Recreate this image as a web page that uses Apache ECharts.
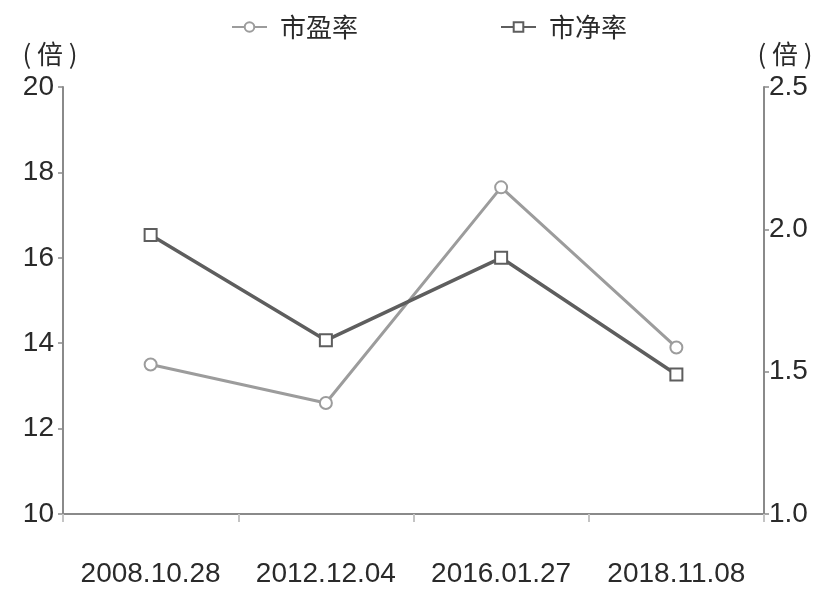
<!DOCTYPE html>
<html>
<head>
<meta charset="utf-8">
<script src="https://cdn.jsdelivr.net/npm/echarts@6/dist/echarts.min.js"></script>
<style>
  html, body { margin: 0; padding: 0; background: #ffffff; }
  #chart { width: 822px; height: 590px; }
</style>
</head>
<body>
<div id="chart"></div>
<script>
// Dates of the observations
const dates = ['2008.10.28', '2012.12.04', '2016.01.27', '2018.11.08'];
// Price-to-earnings ratio (left axis, times)
const peValues = [13.5, 12.6, 17.65, 13.9];
// Price-to-book ratio (right axis, times)
const pbValues = [1.98, 1.61, 1.90, 1.49];
// Series names
const peName = '市盈率';
const pbName = '市净率';
// Axis unit label
const unitLabel = '( 倍 )';

const FONT = '"Liberation Sans", Arial, "Noto Sans CJK SC", sans-serif';
const CJK = '"Noto Sans CJK SC", sans-serif';
const AXIS_COLOR = '#8a8a8a';
const TEXT_COLOR = '#2a2a2a';
const PE_COLOR = '#9c9c9c';
const PB_COLOR = '#5e5e5e';

const chart = echarts.init(document.getElementById('chart'), null, { renderer: 'canvas' });

chart.setOption({
  animation: false,
  backgroundColor: '#ffffff',
  legend: {
    left: 226,
    top: 9,
    itemWidth: 35,
    itemHeight: 12,
    itemGap: 142,
    textStyle: { fontFamily: CJK, fontSize: 26, color: TEXT_COLOR, padding: [0, 0, 0, 8] },
    data: [peName, pbName]
  },
  grid: { left: 63, right: 58, top: 87, bottom: 76, containLabel: false },
  xAxis: {
    type: 'category',
    data: dates,
    boundaryGap: true,
    axisLine: { lineStyle: { color: AXIS_COLOR, width: 2 } },
    axisTick: { show: true, interval: 0, length: 8, lineStyle: { color: '#c4c4c4', width: 2 } },
    axisLabel: { interval: 0, fontFamily: FONT, fontSize: 28, color: TEXT_COLOR, margin: 46 },
    splitLine: { show: false }
  },
  yAxis: [
    {
      type: 'value',
      min: 10,
      max: 20,
      interval: 2,
      position: 'left',
      name: unitLabel,
      nameLocation: 'end',
      nameGap: 20,
      nameTextStyle: { fontFamily: CJK, fontSize: 26, color: TEXT_COLOR, align: 'center', padding: [0, 26, 0, 0] },
      axisLine: { show: true, lineStyle: { color: AXIS_COLOR, width: 2 } },
      axisTick: { show: true, length: 5, lineStyle: { color: AXIS_COLOR, width: 1.5 } },
      axisLabel: { fontFamily: FONT, fontSize: 28, color: TEXT_COLOR, margin: 9 },
      splitLine: { show: false }
    },
    {
      type: 'value',
      min: 1.0,
      max: 2.5,
      interval: 0.5,
      position: 'right',
      name: unitLabel,
      nameLocation: 'end',
      nameGap: 20,
      nameTextStyle: { fontFamily: CJK, fontSize: 26, color: TEXT_COLOR, align: 'center', padding: [0, 0, 0, 42] },
      axisLine: { show: true, lineStyle: { color: AXIS_COLOR, width: 2 } },
      axisTick: { show: true, length: 5, lineStyle: { color: AXIS_COLOR, width: 1.5 } },
      axisLabel: {
        fontFamily: FONT, fontSize: 28, color: TEXT_COLOR, margin: 5,
        formatter: v => v.toFixed(1)
      },
      splitLine: { show: false }
    }
  ],
  series: [
    {
      name: peName,
      type: 'line',
      yAxisIndex: 0,
      data: peValues,
      symbol: 'circle',
      symbolSize: 12,
      lineStyle: { color: PE_COLOR, width: 3 },
      itemStyle: { color: '#ffffff', borderColor: PE_COLOR, borderWidth: 2 },
      z: 2
    },
    {
      name: pbName,
      type: 'line',
      yAxisIndex: 1,
      data: pbValues,
      symbol: 'rect',
      symbolSize: 12,
      lineStyle: { color: PB_COLOR, width: 3.5 },
      itemStyle: { color: '#ffffff', borderColor: PB_COLOR, borderWidth: 2 },
      z: 3
    }
  ]
});
</script>
</body>
</html>
